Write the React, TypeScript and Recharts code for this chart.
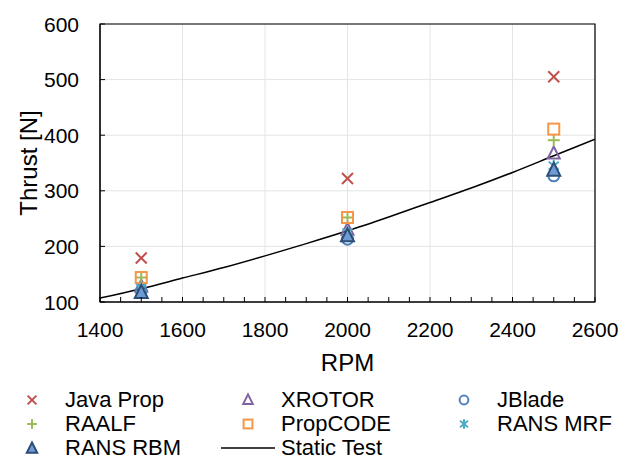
// Thrust vs RPM: propeller codes compared with static test
import React from "react";
import {
  ComposedChart,
  Scatter,
  Line,
  XAxis,
  YAxis,
  CartesianGrid,
  Legend,
  ReferenceArea,
  Label,
} from "recharts";

const rpm = [1500, 2000, 2500];
const javaProp = [179, 322, 505];
const xrotor = [128, 230, 367];
const jblade = [120, 213, 327];
const raalf = [144, 252, 391];
const propCode = [144, 252, 411];
const ransMrf = [125, 225, 345];
const ransRbm = [118, 220, 338];

const testRpm = [1400, 1500, 1600, 1700, 1800, 1900, 2000, 2100, 2200, 2300, 2400, 2500, 2600];
const testThrust = [107, 124, 143, 162, 183, 205, 228, 253, 279, 305, 333, 363, 393];

const xMajorTicks = [1400, 1600, 1800, 2000, 2200, 2400, 2600];
const xAllTicks = [
  1400, 1450, 1500, 1550, 1600, 1650, 1700, 1750, 1800, 1850, 1900, 1950, 2000,
  2050, 2100, 2150, 2200, 2250, 2300, 2350, 2400, 2450, 2500, 2550, 2600,
];
const yTicks = [100, 200, 300, 400, 500, 600];

const FONT = "'Liberation Sans', Arial, sans-serif";

type MarkerKind = "cross" | "plus" | "triangle" | "square" | "circle" | "star" | "filledTriangle";

function Marker({ kind, cx, cy, color, s = 1 }: { kind: MarkerKind; cx: number; cy: number; color: string; s?: number }) {
  const sw = 2;
  switch (kind) {
    case "cross":
      return (
        <g stroke={color} strokeWidth={sw}>
          <line x1={cx - 5.5 * s} y1={cy - 5.5 * s} x2={cx + 5.5 * s} y2={cy + 5.5 * s} />
          <line x1={cx - 5.5 * s} y1={cy + 5.5 * s} x2={cx + 5.5 * s} y2={cy - 5.5 * s} />
        </g>
      );
    case "plus":
      return (
        <g stroke={color} strokeWidth={sw}>
          <line x1={cx - 6 * s} y1={cy} x2={cx + 6 * s} y2={cy} />
          <line x1={cx} y1={cy - 6 * s} x2={cx} y2={cy + 6 * s} />
        </g>
      );
    case "triangle":
      return (
        <polygon
          points={`${cx},${cy - 7 * s} ${cx + 6 * s},${cy + 5 * s} ${cx - 6 * s},${cy + 5 * s}`}
          fill="none"
          stroke={color}
          strokeWidth={sw}
        />
      );
    case "filledTriangle":
      return (
        <polygon
          points={`${cx},${cy - 7 * s} ${cx + 6.5 * s},${cy + 6 * s} ${cx - 6.5 * s},${cy + 6 * s}`}
          fill="#6f9bd4"
          stroke={color}
          strokeWidth={sw}
        />
      );
    case "square":
      return (
        <rect x={cx - 5.5 * s} y={cy - 5.5 * s} width={11 * s} height={11 * s} fill="none" stroke={color} strokeWidth={sw} />
      );
    case "circle":
      return <circle cx={cx} cy={cy} r={5.5 * s} fill="none" stroke={color} strokeWidth={sw} />;
    case "star":
      return (
        <g stroke={color} strokeWidth={sw}>
          <line x1={cx - 5 * s} y1={cy - 4 * s} x2={cx + 5 * s} y2={cy + 4 * s} />
          <line x1={cx - 5 * s} y1={cy + 4 * s} x2={cx + 5 * s} y2={cy - 4 * s} />
          <line x1={cx} y1={cy - 6 * s} x2={cx} y2={cy + 6 * s} />
        </g>
      );
  }
  return null;
}

const series: { name: string; values: number[]; color: string; kind: MarkerKind }[] = [
  { name: "Java Prop", values: javaProp, color: "#c0504d", kind: "cross" },
  { name: "XROTOR", values: xrotor, color: "#8064a2", kind: "triangle" },
  { name: "JBlade", values: jblade, color: "#4f81bd", kind: "circle" },
  { name: "RAALF", values: raalf, color: "#9bbb59", kind: "plus" },
  { name: "PropCODE", values: propCode, color: "#f79646", kind: "square" },
  { name: "RANS MRF", values: ransMrf, color: "#4bacc6", kind: "star" },
  { name: "RANS RBM", values: ransRbm, color: "#2c4d75", kind: "filledTriangle" },
];

const staticTest = testRpm.map((r, i) => ({ rpm: r, thrust: testThrust[i] }));

function XTick({ x, y, payload }: any) {
  const major = payload.value % 200 === 0;
  return (
    <g>
      <line x1={x} x2={x} y1={y} y2={y - 5} stroke="#000" />
      {major && (
        <text x={x} y={y + 27} dy="0.36em" textAnchor="middle" fontSize={21} fill="#000" fontFamily={FONT}>
          {payload.value}
        </text>
      )}
    </g>
  );
}

function YTick({ x, y, payload }: any) {
  return (
    <g>
      <line x1={x} x2={x + 5} y1={y} y2={y} stroke="#000" />
      <text x={x - 21} y={y} dy="0.36em" textAnchor="end" fontSize={21} fill="#000" fontFamily={FONT}>
        {payload.value}
      </text>
    </g>
  );
}

function LegendContent() {
  const items = [
    ...series.map((s) => ({ name: s.name, color: s.color, kind: s.kind as MarkerKind | "line" })),
    { name: "Static Test", color: "#000", kind: "line" as const },
  ];
  return (
    <div style={{ display: "flex", flexWrap: "wrap", width: 660, paddingLeft: 16, fontFamily: FONT }}>
      {items.map((it) => (
        <div key={it.name} style={{ width: 216, height: 24, display: "flex", alignItems: "center" }}>
          <svg width={48} height={24} style={{ overflow: "visible", flex: "none" }}>
            {it.kind === "line" ? (
              <line x1={-11} x2={43} y1={12} y2={12} stroke="#000" strokeWidth={1.5} />
            ) : (
              <Marker kind={it.kind} cx={16} cy={12} color={it.color} s={0.8} />
            )}
          </svg>
          <span style={{ fontSize: 22, lineHeight: "24px", color: "#000", whiteSpace: "nowrap", marginLeft: 1 }}>{it.name}</span>
        </div>
      ))}
    </div>
  );
}

export default function App() {
  return (
    <div style={{ position: "absolute", left: 0, top: 0, fontFamily: FONT, background: "#fff" }}>
      <ComposedChart width={628} height={461} margin={{ top: 24, right: 33, left: 0, bottom: 9 }}>
        <CartesianGrid stroke="#e4e4e4" verticalValues={xMajorTicks} horizontalValues={yTicks} />
        <XAxis
          type="number"
          dataKey="rpm"
          domain={[1400, 2600]}
          ticks={xAllTicks}
          interval={0}
          allowDataOverflow
          tickSize={0}
          tickMargin={0}
          tickLine={false}
          axisLine={{ stroke: "#000" }}
          tick={<XTick />}
          height={70}
        >
          <Label value="RPM" position="insideBottom" offset={1} fontSize={24} fill="#000" fontFamily={FONT} />
        </XAxis>
        <YAxis
          type="number"
          dataKey="thrust"
          domain={[100, 600]}
          ticks={yTicks}
          interval={0}
          allowDataOverflow
          tickSize={0}
          tickMargin={0}
          tickLine={false}
          axisLine={{ stroke: "#000" }}
          tick={<YTick />}
          width={100}
        >
          <Label
            content={({ viewBox }: any) => {
              const cx = viewBox.x + 28;
              const cy = viewBox.y + viewBox.height / 2;
              return (
                <text
                  x={cx}
                  y={cy}
                  dy="0.36em"
                  textAnchor="middle"
                  fontSize={24}
                  fill="#000"
                  fontFamily={FONT}
                  transform={`rotate(-90, ${cx}, ${cy})`}
                >
                  Thrust [N]
                </text>
              );
            }}
          />
        </YAxis>
        <ReferenceArea x1={1400} x2={2600} y1={100} y2={600} fill="none" stroke="#000" strokeWidth={1.2} />
        {series.map((s) => (
          <Scatter
            key={s.name}
            name={s.name}
            data={rpm.map((r, i) => ({ rpm: r, thrust: s.values[i] }))}
            isAnimationActive={false}
            shape={(p: any) => <Marker kind={s.kind} cx={p.cx} cy={p.cy} color={s.color} />}
          />
        ))}
        <Line
          name="Static Test"
          data={staticTest}
          dataKey="thrust"
          type="monotone"
          stroke="#000"
          strokeWidth={1.5}
          dot={false}
          activeDot={false}
          isAnimationActive={false}
        />
        <Legend
          content={<LegendContent />}
          wrapperStyle={{ top: 388, left: 0, width: 628, height: 80 }}
        />
      </ComposedChart>
    </div>
  );
}
